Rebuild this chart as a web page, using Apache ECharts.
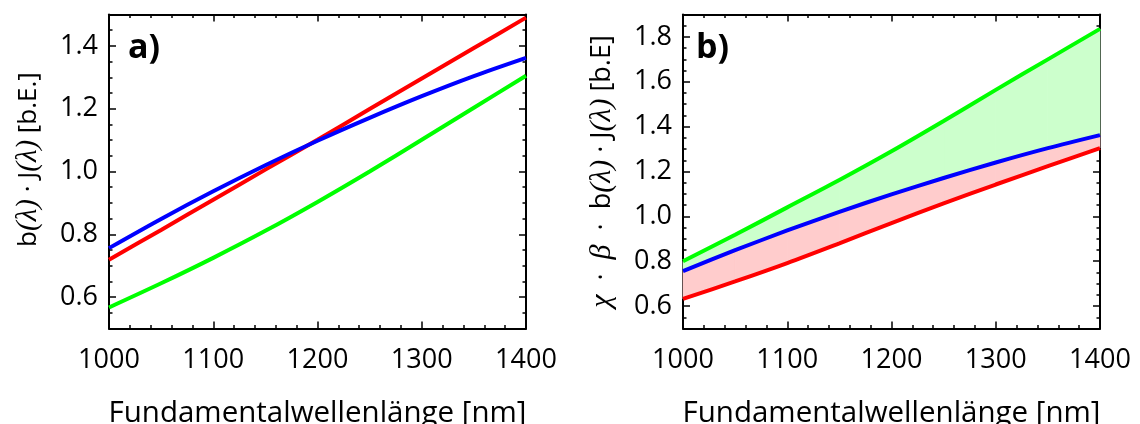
<!DOCTYPE html>
<html>
<head>
<meta charset="utf-8">
<script src="https://cdn.jsdelivr.net/npm/echarts@6/dist/echarts.min.js"></script>
<style>
html,body{margin:0;padding:0;background:#fff;}
#c{width:1140px;height:424px;}
</style>
</head>
<body>
<div id="c"></div>
<script>
// wavelength samples [nm]
const lambda = [1000, 1050, 1100, 1150, 1200, 1250, 1300, 1350, 1400];
// panel a) b(λ)·J(λ)
const redA   = [0.719, 0.814, 0.910, 1.006, 1.101, 1.199, 1.296, 1.393, 1.490];
const blueA  = [0.756, 0.849, 0.937, 1.020, 1.098, 1.171, 1.240, 1.304, 1.362];
const greenA = [0.567, 0.644, 0.725, 0.811, 0.903, 1.000, 1.101, 1.203, 1.305];
// panel b) χ·β·b(λ)·J(λ)
const redB   = [0.632, 0.710, 0.792, 0.880, 0.970, 1.058, 1.142, 1.224, 1.304];
const blueB  = [0.756, 0.849, 0.937, 1.020, 1.098, 1.171, 1.240, 1.304, 1.362];
const greenB = [0.800, 0.918, 1.040, 1.162, 1.290, 1.425, 1.564, 1.700, 1.836];
// tick labels
const xTicks  = [1000, 1100, 1200, 1300, 1400];
const yTicksA = [0.6, 0.8, 1.0, 1.2, 1.4];
const yTicksB = [0.6, 0.8, 1.0, 1.2, 1.4, 1.6, 1.8];

const FONT = 'Open Sans';
const SERIF = 'Liberation Serif';
const RED = '#ff0000', BLUE = '#0000ff', GREEN = '#00ff00';

function pairs(ys){ return lambda.map((x,i)=>[x, ys[i]]); }
// band segments: [x0, lo0, hi0, x1, lo1, hi1]
function band(lo, hi){
  const out = [];
  for (let i = 0; i < lambda.length - 1; i++) {
    out.push([lambda[i], lo[i], hi[i], lambda[i+1], lo[i+1], hi[i+1]]);
  }
  return out;
}

const axisLine = {show:true, onZero:false, lineStyle:{color:'#000', width:2}};

function xAxes(g){
  const base = {
    gridIndex:g, type:'value', min:xTicks[0], max:xTicks[xTicks.length-1], interval:100,
    axisLine:axisLine,
    axisTick:{show:true, inside:true, length:7, lineStyle:{color:'#000', width:1.5}},
    minorTick:{show:true, splitNumber:5, length:3.5, lineStyle:{color:'#000', width:1.5}},
    splitLine:{show:false}, minorSplitLine:{show:false}
  };
  return [
    Object.assign({}, base, {
      position:'bottom',
      axisLabel:{show:true, color:'#000', fontSize:27, fontFamily:FONT, margin:18,
                 formatter:v=>String(v)},
      name:'Fundamentalwellenlänge [nm]', nameLocation:'middle', nameGap:70,
      nameTextStyle:{color:'#000', fontSize:29.5, fontFamily:FONT}
    }),
    Object.assign({}, base, {position:'top', axisLabel:{show:false}})
  ];
}

function yAxes(g, min, max, ticks, name, nameSize, namePad){
  const common = {gridIndex:g, type:'value', min:min, max:max, splitLine:{show:false}};
  const major = Object.assign({}, common, {
    position:'left',
    axisLine:axisLine,
    axisTick:{show:true, inside:true, length:7, customValues:ticks, lineStyle:{color:'#000', width:1.5}},
    axisLabel:{show:true, customValues:ticks, color:'#000', fontSize:27, fontFamily:FONT, margin:11,
               formatter:v=>v.toFixed(1)},
    name:name, nameLocation:'middle', nameGap:66, nameRotate:90,
    nameTextStyle:{color:'#000', fontSize:nameSize, fontFamily:FONT, padding:namePad,
      rich:{i:{fontFamily:SERIF, fontStyle:'italic', fontSize:nameSize+3, color:'#000'}}}
  });
  const minor = Object.assign({}, common, {
    position:'left', interval:0.05,
    axisLine:{show:false},
    axisTick:{show:true, inside:true, length:3.5, lineStyle:{color:'#000', width:1.5}},
    axisLabel:{show:false}
  });
  const majorR = Object.assign({}, common, {
    position:'right', axisLine:axisLine,
    axisTick:{show:true, inside:true, length:7, customValues:ticks, lineStyle:{color:'#000', width:1.5}},
    axisLabel:{show:false}
  });
  const minorR = Object.assign({}, minor, {position:'right'});
  return [major, minor, majorR, minorR];
}

function line(name, data, color, xi, yi){
  return {name:name, type:'line', xAxisIndex:xi, yAxisIndex:yi, data:data, smooth:0.3,
          showSymbol:false, symbol:'none', lineStyle:{color:color, width:4}, z:5};
}

function fill(name, data, color, xi, yi){
  return {
    name:name, type:'custom', xAxisIndex:xi, yAxisIndex:yi, data:data, z:1,
    encode:{x:[0,3], y:[1,2,4,5]},
    renderItem:function(params, api){
      const p0 = api.coord([api.value(0), api.value(2)]);
      const p1 = api.coord([api.value(3), api.value(5)]);
      const p2 = api.coord([api.value(3), api.value(4)]);
      const p3 = api.coord([api.value(0), api.value(1)]);
      return {type:'polygon', shape:{points:[p0,p1,p2,p3]},
              style:{fill:color, stroke:color, lineWidth:0.8}};
    }
  };
}

const option = {
  animation:false,
  backgroundColor:'#fff',
  grid:[
    {left:109, right:614, top:14.5, bottom:95.5, containLabel:false, outerBoundsMode:'none'},
    {left:683, right:40, top:14.5, bottom:95.5, containLabel:false, outerBoundsMode:'none'}
  ],
  xAxis:[].concat(xAxes(0), xAxes(1)),
  yAxis:[].concat(
    yAxes(0, 0.5, 1.5, yTicksA, 'b{i|(λ)} · J{i|(λ)} [b.E.]', 26, [0,0,0,24]),
    yAxes(1, 0.5, 1.9, yTicksB, '{i|χ}  ·  {i|β}  ·  b{i|(λ)} · J{i|(λ)} [b.E]', 27, [0,0,0,0])
  ),
  graphic:[
    {type:'text', left:128, top:31, style:{text:'a)', font:'bold 34px "Open Sans"', fill:'#000'}},
    {type:'text', left:696, top:31, style:{text:'b)', font:'bold 34px "Open Sans"', fill:'#000'}}
  ],
  series:[
    line('rot a', pairs(redA), RED, 0, 0),
    line('blau a', pairs(blueA), BLUE, 0, 0),
    line('grün a', pairs(greenA), GREEN, 0, 0),
    fill('band rot', band(redB, blueB), '#ffcccc', 2, 4),
    fill('band grün', band(blueB, greenB), '#ccffcc', 2, 4),
    line('rot b', pairs(redB), RED, 2, 4),
    line('blau b', pairs(blueB), BLUE, 2, 4),
    line('grün b', pairs(greenB), GREEN, 2, 4)
  ]
};

const chart = echarts.init(document.getElementById('c'), null, {renderer:'canvas'});
chart.setOption(option);
</script>
</body>
</html>
